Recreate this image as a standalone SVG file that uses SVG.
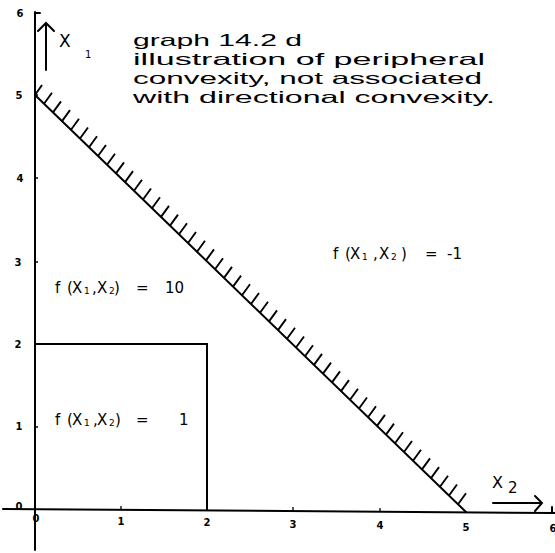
<svg xmlns="http://www.w3.org/2000/svg" width="555" height="553" viewBox="0 0 555 553">
<style>
.ln{stroke:#000;stroke-width:2;fill:none;stroke-linecap:round}
.th{stroke:#000;stroke-width:1.3;fill:none}
.tk{font-family:"DejaVu Sans",sans-serif;font-size:10px;font-weight:bold;fill:#000;text-anchor:middle}
.tt{font-family:"DejaVu Sans","Liberation Sans",sans-serif;font-size:19px;fill:#000}
.ti{font-family:"Liberation Sans",sans-serif;font-size:16.5px;fill:#000}
.lb{font-family:"DejaVu Sans","Liberation Sans",sans-serif;font-size:15px;fill:#000}
.sb{font-size:9px}
</style>
<rect width="555" height="553" fill="#fff"/>
<g id="axes">
<path class="ln" d="M35 12 L35 550 M35 13 L40 13"/>
<path class="ln" d="M3 509 L555 513 M552 513 L552 507"/>
<path class="th" d="M35 95 h3 M35 178 h3 M35 262 h3 M35 427 h3 M121 510 v-4 M293 511 v-4 M380 512 v-4"/>
<text class="tk" x="20" y="17">6</text>
<text class="tk" x="19" y="99">5</text>
<text class="tk" x="20" y="182">4</text>
<text class="tk" x="18" y="266">3</text>
<text class="tk" x="18" y="348">2</text>
<text class="tk" x="19" y="430">1</text>
<text class="tk" x="19" y="510">0</text>
<text class="tk" x="36" y="522">0</text>
<text class="tk" x="121" y="525">1</text>
<text class="tk" x="207" y="526">2</text>
<text class="tk" x="293" y="528">3</text>
<text class="tk" x="380" y="529">4</text>
<text class="tk" x="466" y="531">5</text>
<text class="tk" x="553" y="532">6</text>
</g>
<g id="x1-arrow">
<path class="ln" d="M46 70 L46 23 M38 31 L46 23 L54 31"/>
<text class="tt" x="59" y="47" style="font-size:17px">X</text>
<text class="lb" x="85" y="58" style="font-size:10px">1</text>
</g>
<g id="x2-arrow">
<path class="ln" d="M493 503 L542 503 M535 496 L542 503 L535 511"/>
<text class="tt" x="492" y="488" style="font-size:16px">X</text>
<text class="tt" x="508" y="493" style="font-size:15px">2</text>
</g>
<g id="title">
<text class="ti" x="133" y="46" textLength="169" lengthAdjust="spacingAndGlyphs">graph 14.2 d</text>
<text class="ti" x="133" y="65" textLength="352" lengthAdjust="spacingAndGlyphs">illustration of peripheral</text>
<text class="ti" x="133" y="84" textLength="349" lengthAdjust="spacingAndGlyphs">convexity, not associated</text>
<text class="ti" x="133" y="103" textLength="362" lengthAdjust="spacingAndGlyphs">with directional convexity.</text>
</g>
<g id="boundary">
<path class="ln" d="M35 95 L466 512"/>
<path class="th" style="stroke-width:1.9" d="M35 95l7 -10M44 103.7l8 -11M53 112.4l8 -11M62 121.1l8 -11M71 129.8l8 -11M80 138.5l8 -11M89 147.2l8 -11M98 156l8 -11M107 164.7l8 -11M116 173.4l8 -11M125 182.1l8 -11M134 190.8l8 -11M143 199.5l8 -11M152 208.2l8 -11M161 216.9l8 -11M170 225.6l8 -11M179 234.3l8 -11M188 243l8 -11M197 251.7l8 -11M206 260.4l8 -11M215 269.2l8 -11M224 277.9l8 -11M233 286.6l8 -11M242 295.3l8 -11M251 304l8 -11M260 312.7l8 -11M269 321.4l8 -11M278 330.1l8 -11M287 338.8l8 -11M296 347.5l8 -11M305 356.2l8 -11M314 364.9l8 -11M323 373.6l8 -11M332 382.4l8 -11M341 391.1l8 -11M350 399.8l8 -11M359 408.5l8 -11M368 417.2l8 -11M377 425.9l8 -11M386 434.6l8 -11M395 443.3l8 -11M404 452l8 -11M413 460.7l8 -11M422 469.4l8 -11M431 478.1l8 -11M440 486.8l8 -11M449 495.5l8 -11M458 504.2l8 -11"/>
</g>
<g id="region-box">
<path class="ln" d="M35 344 L207 344 L207 510"/>
</g>
<g id="label-minus1">
<text class="lb" y="259"><tspan x="333">f</tspan><tspan x="345">(</tspan><tspan x="350">X</tspan><tspan x="362" class="sb" dy="1">1</tspan><tspan x="373" dy="-1">,</tspan><tspan x="379">X</tspan><tspan x="391" class="sb" dy="1">2</tspan><tspan x="401" dy="-1">)</tspan><tspan x="425">=</tspan><tspan x="447">-1</tspan></text>
</g>
<g id="label-10">
<text class="lb" y="293"><tspan x="55">f</tspan><tspan x="67">(</tspan><tspan x="72">X</tspan><tspan x="84" class="sb" dy="1">1</tspan><tspan x="92" dy="-1">,</tspan><tspan x="97">X</tspan><tspan x="109" class="sb" dy="1">2</tspan><tspan x="114" dy="-1">)</tspan><tspan x="136">=</tspan><tspan x="165">10</tspan></text>
</g>
<g id="label-1">
<text class="lb" y="425"><tspan x="55">f</tspan><tspan x="67">(</tspan><tspan x="72">X</tspan><tspan x="84" class="sb" dy="1">1</tspan><tspan x="93" dy="-1">,</tspan><tspan x="97">X</tspan><tspan x="109" class="sb" dy="1">2</tspan><tspan x="115" dy="-1">)</tspan><tspan x="136">=</tspan><tspan x="179">1</tspan></text>
</g>
</svg>
